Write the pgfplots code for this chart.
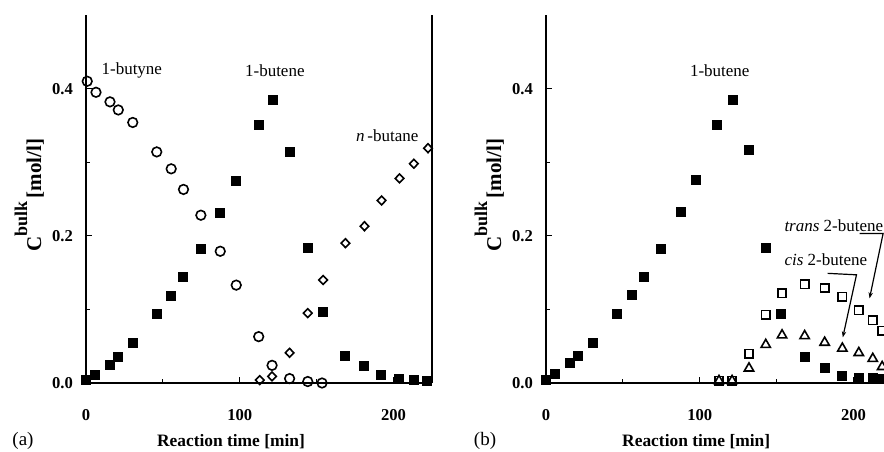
\documentclass[border=0pt]{standalone}
\usepackage{fontspec}
\setmainfont{Liberation Serif}
\usepackage{pgfplots}
\pgfplotsset{compat=1.18}
\usetikzlibrary{arrows.meta}

\newcommand{\lbl}{\fontsize{8.5}{10}\selectfont}

\pgfplotsset{
  every non boxed x axis/.style={},
  every non boxed y axis/.style={},
  kin/.style={
    scale only axis, width=173pt, height=184pt,
    xmin=0, xmax=225, ymin=0, ymax=0.5,
    axis x line*=bottom, axis y line*=box,
    axis line style={line width=0.9pt},
    x axis line style={-}, y axis line style={-},
    tick align=inside, xtick pos=left, ytick pos=left,
    major tick length=3pt, minor tick length=2pt,
    tick style={line width=0.6pt, black},
    xtick={0,100,200}, minor xtick={50,150},
    ytick={0,0.2,0.4}, minor ytick={0.1,0.3},
    yticklabels={0.0,0.2,0.4},
    ticklabel style={font=\fontsize{8.3}{10}\selectfont\bfseries},
    /pgf/number format/assume math mode=true,
    xticklabel style={yshift=-9.5pt},
    yticklabel style={xshift=-3pt},
    xlabel={Reaction time [min]},
    xlabel style={font=\fontsize{8.7}{10}\selectfont\bfseries, anchor=north, yshift=-22pt},
    ylabel={C\raisebox{7pt}{\fontsize{9}{10}\selectfont bulk}\,[mol/l]},
    ylabel style={font=\fontsize{10.5}{12}\selectfont\bfseries,
      at={(axis description cs:-0.101,0.51)}, anchor=south},
    clip=false,
    every axis plot/.append style={only marks, black, line width=0.8pt},
  },
  butyne/.style={mark=o, mark size=2.4pt},
  butene/.style={mark=square*, mark size=2.1pt},
  butane/.style={mark=diamond, mark size=2.2pt, mark options={xscale=1.3}},
  trans/.style={mark=square, mark size=2.1pt},
  cis/.style={mark=triangle, mark size=2.7pt},
}

\begin{document}
\begin{tikzpicture}

% (a)
\begin{axis}[kin, at={(43pt,-191.5pt)}, anchor=south west,
  xlabel style={at={(axis description cs:0.419,0)}}]
\addplot[butyne] coordinates {
(0.8,0.410)(6.5,0.395)(15.6,0.382)(21,0.371)(30.4,0.354)(46,0.314)(55.4,0.291)
(63.4,0.263)(74.7,0.228)(87.3,0.179)(97.7,0.133)(112.3,0.063)(121,0.024)
(132.4,0.006)(144.2,0.002)(153.5,0.000)};
\addplot[butene] coordinates {
(0,0.004)(5.9,0.011)(15.6,0.025)(21,0.036)(30.4,0.055)(46,0.094)(55.4,0.118)
(63.4,0.144)(74.7,0.182)(87.3,0.231)(97.7,0.275)(112.3,0.350)(121.6,0.384)
(132.4,0.314)(144.2,0.183)(154.2,0.096)(168.7,0.037)(180.7,0.023)(192,0.011)
(203.5,0.005)(213.2,0.004)(222,0.003)};
\addplot[butane] coordinates {
(113,0.004)(121,0.009)(132.4,0.041)(144.2,0.095)(154.2,0.140)(168.7,0.190)
(181.1,0.213)(192.2,0.248)(203.9,0.278)(213.2,0.298)(222.4,0.319)};
\node[font=\lbl] at (axis cs:29.8,0.425) {1-butyne};
\node[font=\lbl] at (axis cs:122.8,0.425) {1-butene};
\node[font=\lbl] at (axis cs:195.9,0.336) {\textit{n}\,-butane};
\end{axis}

% (b)
\begin{axis}[kin, at={(273pt,-191.5pt)}, anchor=south west,
  xlabel style={at={(axis description cs:0.434,0)}}]
\addplot[butene] coordinates {
(0,0.004)(5.8,0.012)(15.6,0.027)(21,0.037)(30.3,0.055)(46.3,0.094)(55.6,0.119)
(63.8,0.144)(75.1,0.182)(88.1,0.232)(97.8,0.276)(111.2,0.350)(121.4,0.385)
(131.8,0.317)(142.9,0.183)(153,0.094)(168.2,0.036)(181.2,0.021)(192.7,0.009)
(203.4,0.007)(212.5,0.007)(218.6,0.006)};
\addplot[trans] coordinates {
(112.5,0.003)(121,0.003)(132,0.040)(142.9,0.093)(153.5,0.122)(168.2,0.134)
(181.2,0.129)(192.7,0.117)(203.4,0.099)(212.5,0.085)(218.6,0.071)};
\addplot[cis] coordinates {
(112.5,0.003)(121,0.003)(132,0.020)(142.9,0.052)(153.5,0.065)(168.2,0.064)
(181.2,0.055)(192.7,0.047)(203.4,0.041)(212.5,0.033)(218.6,0.022)};
\node[font=\lbl] at (axis cs:113,0.425) {1-butene};
\node[font=\lbl, anchor=west] at (axis cs:150.5,0.214) {\textit{trans} 2-butene};
\node[font=\lbl, anchor=west] at (axis cs:150.5,0.167) {\textit{cis} 2-butene};
\draw[line width=0.6pt, -{Stealth[length=3pt,width=2.2pt]}]
  (axis cs:183.1,0.149) -- (axis cs:201.9,0.147) -- (axis cs:193,0.062);
\draw[line width=0.6pt, -{Stealth[length=3pt,width=2.2pt]}]
  (axis cs:203.9,0.203) -- (axis cs:219.2,0.203) -- (axis cs:210.4,0.115);
\end{axis}

\node[font=\fontsize{9.5}{11}\selectfont] at (11.5pt,-220.5pt) {(a)};
\node[font=\fontsize{9.5}{11}\selectfont] at (242.5pt,-220.5pt) {(b)};

\pgfresetboundingbox
\useasboundingbox (0,0) rectangle (442pt,-225.5pt);
\end{tikzpicture}
\end{document}
